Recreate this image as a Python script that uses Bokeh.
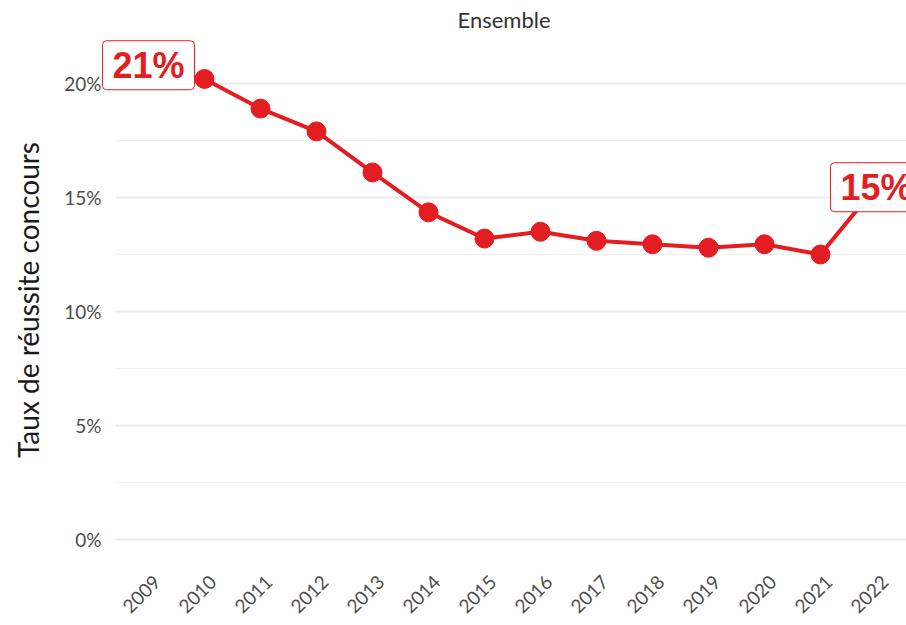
import math
from bokeh.plotting import figure
from bokeh.models import Range1d, Label, FixedTicker, ColumnDataSource, LinearAxis
from bokeh.embed import file_html
from bokeh.resources import INLINE

# ---- data ----
years = [2010, 2011, 2012, 2013, 2014, 2015, 2016, 2017, 2018, 2019, 2020, 2021, 2022]
rates = [20.2, 18.9, 17.9, 16.1, 14.35, 13.2, 13.5, 13.1, 12.95, 12.8, 12.95, 12.5, 15.5]
x_ticks = [2009, 2010, 2011, 2012, 2013, 2014, 2015, 2016, 2017, 2018, 2019, 2020, 2021, 2022]
y_ticks = [0, 5, 10, 15, 20]
y_minor = [2.5, 7.5, 12.5, 17.5]
y_tick_labels = ["0%", "5%", "10%", "15%", "20%"]
label_texts = ["21%", "15%"]
label_x = [2009, 2022]
label_y = [20.8, 15.45]

RED = "#e41d22"

# panel (grid area) extent in x, as in the reference
X_START, X_END = 2008.411, 2022.536
FRAME_X_START = 2008.161  # a little wider so that the 21% box is not clipped
LABEL_SHIFT = 0.15        # rotated year labels sit slightly right of their tick

src = ColumnDataSource(dict(year=years, rate=rates))

p = figure(width=906, height=625, output_backend="svg", toolbar_location=None,
           x_range=Range1d(FRAME_X_START, X_END), y_range=Range1d(-0.92, 21.93),
           x_axis_location=None,
           min_border_left=101, min_border_right=0, min_border_top=38, min_border_bottom=65)

p.title.text = "Ensemble"
p.title.align = "center"
p.title.vertical_align = "top"
p.title.text_font = "Lato"
p.title.text_font_size = "22px"
p.title.text_font_style = "normal"
p.title.text_color = "#333333"

p.outline_line_color = None
p.background_fill_color = "white"
p.border_fill_color = "white"

# x axis (year labels)
p.extra_x_ranges = {"lbl": Range1d(FRAME_X_START - LABEL_SHIFT, X_END - LABEL_SHIFT)}
xax = LinearAxis(x_range_name="lbl", ticker=FixedTicker(ticks=x_ticks))
xax.major_label_overrides = {t: str(t) for t in x_ticks}
xax.major_label_orientation = math.pi / 4
p.add_layout(xax, "below")

p.yaxis.ticker = FixedTicker(ticks=y_ticks, minor_ticks=y_minor)
p.yaxis.major_label_overrides = {t: s for t, s in zip(y_ticks, y_tick_labels)}
for ax in (xax, p.yaxis[0]):
    ax.axis_line_color = None
    ax.major_tick_line_color = None
    ax.minor_tick_line_color = None
    ax.major_label_text_font = "Lato"
    ax.major_label_text_font_size = "19px"
    ax.major_label_text_color = "#4d4d4d"
xax.major_label_standoff = 12
p.yaxis.major_tick_out = 0
p.yaxis.minor_tick_out = 0
p.yaxis.major_label_standoff = 0
p.yaxis.axis_label = "Taux de réussite concours"
p.yaxis.axis_label_text_font = "Lato"
p.yaxis.axis_label_text_font_size = "28px"
p.yaxis.axis_label_text_font_style = "normal"
p.yaxis.axis_label_text_color = "#1a1a1a"
p.yaxis.axis_label_standoff = 16

# horizontal grid lines over the panel extent only
p.xgrid.grid_line_color = None
p.ygrid.grid_line_color = None
p.segment(x0=[X_START] * len(y_minor), x1=[X_END] * len(y_minor), y0=y_minor, y1=y_minor,
          line_color="#f0f0f0", line_width=1)
p.segment(x0=[X_START] * len(y_ticks), x1=[X_END] * len(y_ticks), y0=y_ticks, y1=y_ticks,
          line_color="#ebebeb", line_width=2)

p.line("year", "rate", source=src, line_color=RED, line_width=4)
p.scatter("year", "rate", source=src, size=19, fill_color=RED, line_color=RED)

for t, x, y in zip(label_texts, label_x, label_y):
    p.add_layout(Label(x=x, y=y, text=t, text_align="center", text_baseline="middle",
                       text_font="Liberation Sans", text_font_style="bold",
                       text_font_size="36px", text_color=RED,
                       background_fill_color="white", border_line_color=RED,
                       border_line_width=1, border_radius=4,
                       padding=dict(left=10, right=10, top=4, bottom=4)))

open("out.html", "w").write(file_html(p, INLINE))
